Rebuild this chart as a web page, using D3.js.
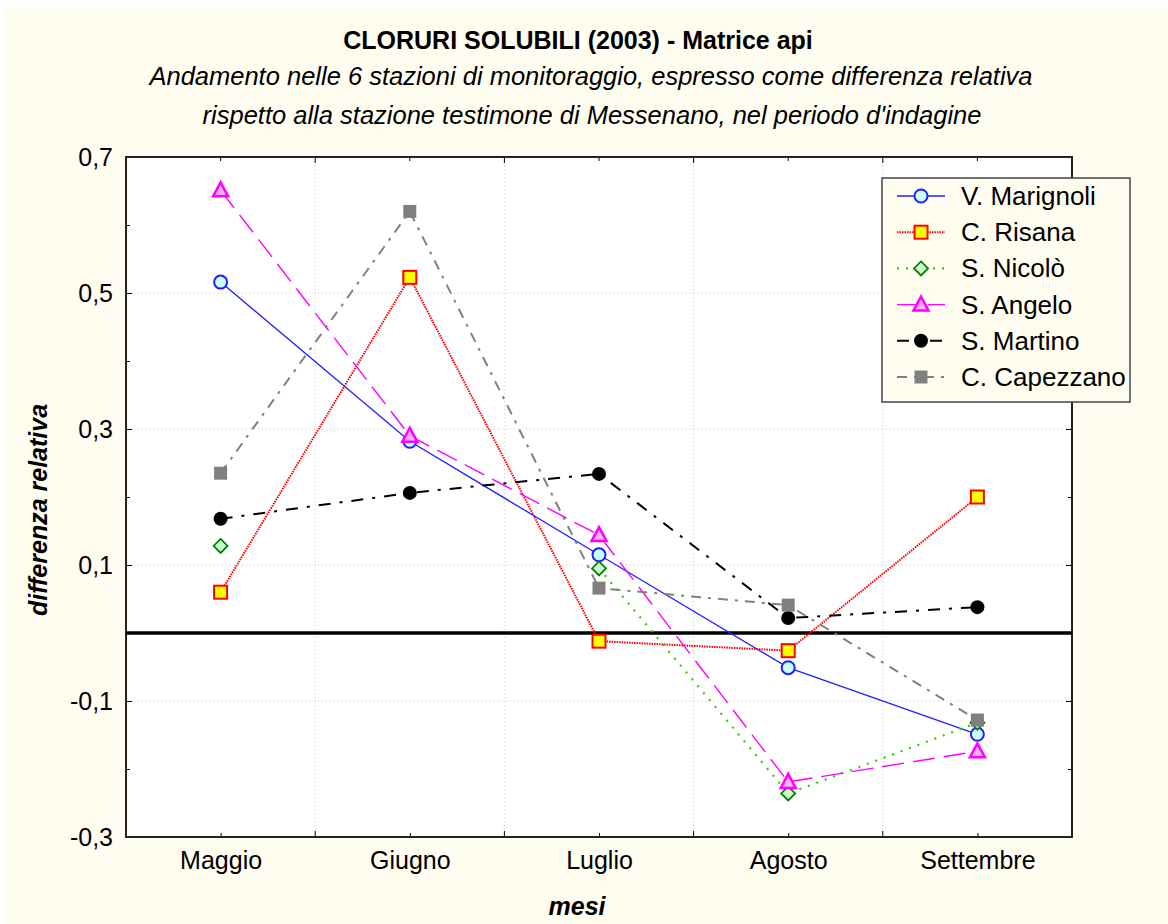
<!DOCTYPE html>
<html><head><meta charset="utf-8">
<script src="https://cdn.jsdelivr.net/npm/d3@7"></script>
<style>body{margin:0;background:#fff;} svg{display:block;font-family:"Liberation Sans",Arial,sans-serif;}</style>
</head><body><svg id="c" width="1168" height="924"></svg>
<script>
const months = ["Maggio","Giugno","Luglio","Agosto","Settembre"];
const yTicks = [0.7,0.5,0.3,0.1,-0.1,-0.3];
const marignoli = [0.516,0.282,0.115,-0.051,-0.149];
const risana = [0.060,0.523,-0.012,-0.026,0.200];
const nicolo = [0.128,null,0.095,-0.236,-0.132];
const angelo = [0.651,0.290,0.144,-0.219,-0.174];
const martino = [0.168,0.206,0.234,0.022,0.038];
const capezzano = [0.235,0.620,0.066,0.041,-0.128];

const series = [
  {name:"V. Marignoli", values:marignoli, color:"#1f1fff", width:1.3, dash:null, marker:"circle", fill:"#c8ffff", mstroke:"#1f1fff"},
  {name:"C. Risana", values:risana, color:"#ff0000", width:2, dash:"1.5,1", marker:"square", fill:"#ffff00", mstroke:"#ff0000"},
  {name:"S. Nicolò", values:nicolo, color:"#33cc00", width:2.2, dash:"2,7", marker:"diamond", fill:"#c8ffc8", mstroke:"#008000"},
  {name:"S. Angelo", values:angelo, color:"#ff00ff", width:1.4, dash:"22,9", marker:"triangle", fill:"#ffb0ff", mstroke:"#ff00ff"},
  {name:"S. Martino", values:martino, color:"#000000", width:2, dash:"12,9,3,9", marker:"dot", fill:"#000000", mstroke:"#000000"},
  {name:"C. Capezzano", values:capezzano, color:"#808080", width:2, dash:"10,7,3,7", marker:"fsquare", fill:"#808080", mstroke:"#808080"}
];

const svg = d3.select("#c");
const L=126, R=1072, T=157, B=837;
svg.append("rect").attr("x",5).attr("y",7).attr("width",1163).attr("height",917).attr("fill","#fffdf0");
svg.append("rect").attr("x",L).attr("y",T).attr("width",R-L).attr("height",B-T).attr("fill","#fff");

const x = d3.scalePoint().domain(months).range([L,R]).padding(0.5);
const y = d3.scaleLinear().domain([-0.3,0.7]).range([B,T]);
const step = x.step();
const bounds = months.slice(0,-1).map(m=>x(m)+step/2);

// grid
const grid = svg.append("g").attr("stroke","#c4c4c4").attr("stroke-width",1).attr("stroke-dasharray","1,3");
yTicks.slice(1,-1).forEach(v=>grid.append("line").attr("x1",L).attr("x2",R).attr("y1",y(v)).attr("y2",y(v)));
bounds.forEach(b=>grid.append("line").attr("x1",b).attr("x2",b).attr("y1",T).attr("y2",B));

// axes with inward ticks
const yMinor = d3.range(-0.2,0.7,0.2).map(v=>+v.toFixed(1));
const fmt = v=>d3.format(".1f")(v).replace(".",",").replace("−","-");
const axL = svg.append("g").attr("transform",`translate(${L},0)`).call(d3.axisLeft(y).tickValues(yTicks).tickSize(-6).tickFormat(fmt).tickPadding(13));
axL.selectAll("text").attr("font-size",25).attr("fill","#000");
axL.select(".domain").remove();
const axLm = svg.append("g").attr("transform",`translate(${L},0)`).call(d3.axisLeft(y).tickValues(yMinor).tickSize(-4).tickFormat(""));
axLm.select(".domain").remove();
const axR = svg.append("g").attr("transform",`translate(${R},0)`).call(d3.axisRight(y).tickValues(yTicks).tickSize(-6).tickFormat(""));
axR.select(".domain").remove();
const axRm = svg.append("g").attr("transform",`translate(${R},0)`).call(d3.axisRight(y).tickValues(yMinor).tickSize(-4).tickFormat(""));
axRm.select(".domain").remove();

const axB = svg.append("g").attr("transform",`translate(0,${B})`).call(d3.axisBottom(x).tickSize(-4).tickPadding(14));
axB.select(".domain").remove();
axB.selectAll("text").attr("font-size",25).attr("fill","#000");
bounds.forEach(b=>{
  svg.append("line").attr("x1",b).attr("x2",b).attr("y1",B).attr("y2",B-6).attr("stroke","#000");
  svg.append("line").attr("x1",b).attr("x2",b).attr("y1",T).attr("y2",T+6).attr("stroke","#000");
});
months.forEach(m=>svg.append("line").attr("x1",x(m)).attr("x2",x(m)).attr("y1",T).attr("y2",T+4).attr("stroke","#000"));

svg.append("rect").attr("x",L).attr("y",T).attr("width",R-L).attr("height",B-T).attr("fill","none").attr("stroke","#222").attr("stroke-width",2);

// zero line
svg.append("line").attr("x1",L).attr("x2",R).attr("y1",y(0)).attr("y2",y(0)).attr("stroke","#000").attr("stroke-width",3.5);

function drawMarker(g, s, cx, cy){
  switch(s.marker){
    case "circle": g.append("circle").attr("cx",cx).attr("cy",cy).attr("r",6.5).attr("fill",s.fill).attr("stroke",s.mstroke).attr("stroke-width",2); break;
    case "square": g.append("rect").attr("x",cx-6.5).attr("y",cy-6.5).attr("width",13).attr("height",13).attr("fill",s.fill).attr("stroke",s.mstroke).attr("stroke-width",2); break;
    case "diamond": g.append("path").attr("d",`M${cx},${cy-7}L${cx+7},${cy}L${cx},${cy+7}L${cx-7},${cy}Z`).attr("fill",s.fill).attr("stroke",s.mstroke).attr("stroke-width",1.8); break;
    case "triangle": g.append("path").attr("d",`M${cx},${cy-8}L${cx+7.5},${cy+6}L${cx-7.5},${cy+6}Z`).attr("fill",s.fill).attr("stroke",s.mstroke).attr("stroke-width",2.5); break;
    case "dot": g.append("circle").attr("cx",cx).attr("cy",cy).attr("r",7).attr("fill",s.fill); break;
    case "fsquare": g.append("rect").attr("x",cx-6.5).attr("y",cy-6.5).attr("width",13).attr("height",13).attr("fill",s.fill); break;
  }
}

const line = d3.line().defined(d=>d.v!==null).x(d=>x(d.m)).y(d=>y(d.v));
const plot = svg.append("g");
series.forEach(s=>{
  const data = s.values.map((v,i)=>({m:months[i],v}));
  plot.append("path").datum(data).attr("d",line).attr("fill","none").attr("stroke",s.color).attr("stroke-width",s.width).attr("stroke-dasharray",s.dash);
});
series.forEach(s=>{
  const g = plot.append("g");
  s.values.forEach((v,i)=>{ if(v!==null) drawMarker(g,s,x(months[i]),y(v)); });
});

// legend
const lg = svg.append("g");
lg.append("rect").attr("x",882).attr("y",178).attr("width",248).attr("height",224).attr("fill","#fffdf0").attr("stroke","#444").attr("stroke-width",1.5);
series.forEach((s,i)=>{
  const yy = 196 + i*36.2;
  lg.append("line").attr("x1",897).attr("x2",945).attr("y1",yy).attr("y2",yy).attr("stroke",s.color).attr("stroke-width",s.width).attr("stroke-dasharray",s.dash);
  drawMarker(lg,s,921,yy);
  lg.append("text").attr("x",961).attr("y",yy+9).attr("font-size",26).text(s.name);
});

// titles
svg.append("text").attr("x",578).attr("y",49).attr("text-anchor","middle").attr("font-size",25).attr("font-weight","bold").text("CLORURI SOLUBILI (2003) - Matrice api");
svg.append("text").attr("x",591).attr("y",85).attr("text-anchor","middle").attr("font-size",25.5).attr("font-style","italic").text("Andamento nelle 6 stazioni di monitoraggio, espresso come differenza relativa");
svg.append("text").attr("x",592).attr("y",124).attr("text-anchor","middle").attr("font-size",25.5).attr("font-style","italic").text("rispetto alla stazione testimone di Messenano, nel periodo d'indagine");
svg.append("text").attr("x",577).attr("y",915).attr("text-anchor","middle").attr("font-size",25).attr("font-weight","bold").attr("font-style","italic").text("mesi");
svg.append("text").attr("transform","translate(47,510) rotate(-90)").attr("text-anchor","middle").attr("font-size",25).attr("font-weight","bold").attr("font-style","italic").text("differenza relativa");
</script></body></html>
